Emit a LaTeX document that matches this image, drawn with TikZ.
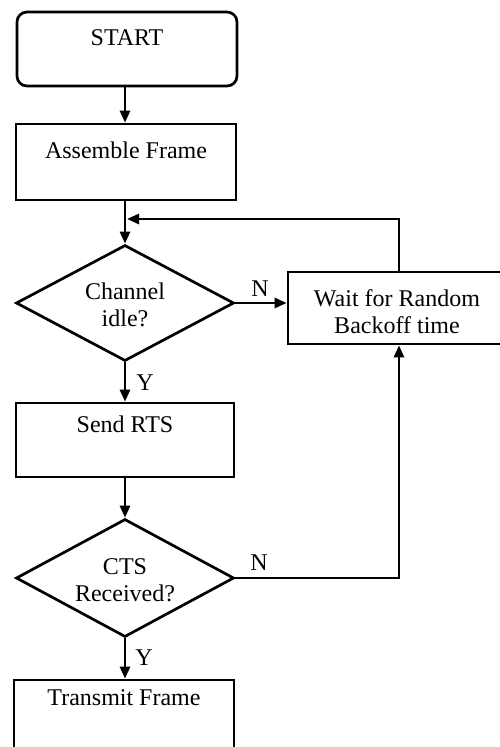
\documentclass[tikz,border=0pt]{standalone}
\usepackage{fontspec}
\setmainfont{Liberation Serif}
\usetikzlibrary{arrows.meta,shapes.geometric}
\tikzset{
  flowbox/.style={draw, line width=2.7pt, rectangle, inner sep=0pt},
  decision/.style={draw, line width=2.7pt, diamond, inner sep=0pt,
    minimum width=218pt, minimum height=116pt},
  txt/.style={font=\fontsize{24}{27}\selectfont, align=center, inner sep=0pt},
  flow/.style={line width=2.7pt, -{Triangle[length=12pt,width=10pt]}},
}
\begin{document}
\begin{tikzpicture}[x=1pt,y=-1pt]
  \useasboundingbox (0,0) rectangle (500,747);

  % start terminal
  \node[flowbox, rounded corners=10pt, minimum width=220pt, minimum height=74pt] (start) at (127,49) {};
  \node[txt] (starttxt) at (127,38) {START};

  % assemble frame
  \node[flowbox, minimum width=220pt, minimum height=76pt] (asm) at (126,162) {};
  \node[txt] (asmtxt) at (126,150) {Assemble Frame};

  % channel idle decision
  \node[decision] (ch) at (125,303) {};
  \node[txt] (chtxt) at (125,305) {Channel\\idle?};

  % backoff wait box (runs past the right edge)
  \node[flowbox, minimum width=222pt, minimum height=72pt] (wait) at (399,308) {};
  \node[txt] (waittxt) at (397,312) {Wait for Random\\Backoff time};

  % send RTS
  \node[flowbox, minimum width=218pt, minimum height=74pt] (send) at (125,440) {};
  \node[txt] (sendtxt) at (125,424) {Send RTS};

  % CTS received decision
  \node[decision, minimum height=118pt] (cts) at (125,578) {};
  \node[txt] (ctstxt) at (125,580) {CTS\\Received?};

  % transmit frame (runs past the bottom edge)
  \node[flowbox, minimum width=220pt, minimum height=82pt] (tx) at (124,721) {};
  \node[txt] (txtxt) at (124,698) {Transmit Frame};

  % join point of the retry loop
  \coordinate (join) at (127,219);

  % connectors (the main column runs straight down at x = 125)
  \draw[flow] (start.south -| ch.north) -- (asm.north -| ch.north);
  \draw[flow] (asm.south -| ch.north) -- (ch.north);
  \draw[flow] (wait.north) |- (join);
  \draw[flow] (ch.east) -- (wait.west |- ch.east);
  \draw[flow] (ch.south) -- (send.north);
  \draw[flow] (send.south) -- (cts.north);
  \draw[flow] (cts.east) -| (wait.south);
  \draw[flow] (cts.south) -- (tx.north -| cts.south);

  % branch labels
  \node[txt] (n1) at (260,289) {N};
  \node[txt] (y1) at (145,383) {Y};
  \node[txt] (n2) at (259,563) {N};
  \node[txt] (y2) at (144,658) {Y};
\end{tikzpicture}
\end{document}
